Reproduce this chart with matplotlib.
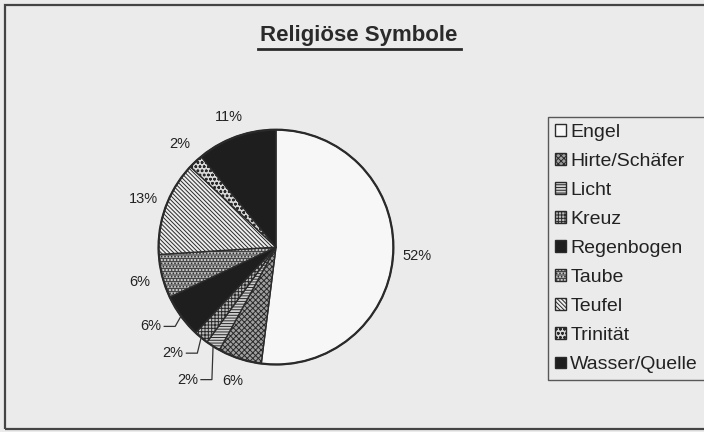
#!/usr/bin/env python3
import numpy as np
import matplotlib.pyplot as plt
from matplotlib.colors import to_rgba
from matplotlib.patches import Rectangle

plt.rcParams['font.family'] = ['Liberation Sans', 'DejaVu Sans']
plt.rcParams['hatch.linewidth'] = 0.7

categories = ["Engel", "Hirte/Schäfer", "Licht", "Kreuz", "Regenbogen",
              "Taube", "Teufel", "Trinität", "Wasser/Quelle"]
shares = [52, 6, 2, 2, 6, 6, 13, 2, 11]
labels = ["52%", "6%", "2%", "2%", "6%", "6%", "13%", "2%", "11%"]

colors = ["#f7f7f7", "#a0a0a0", "#d0d0d0", "#bdbdbd", "#1e1e1e",
          "#c8c8c8", "#eeeeee", "#d8d8d8", "#1e1e1e"]
hatches = ["", "xxxxxx", "------", "+++++", "", "-----.....",
           "\\\\\\\\\\\\\\\\", "oooo", ""]
hatch_col = ["#333333", "#3a3a3a", "#222222", "#222222", "#1e1e1e",
             "#333333", "#222222", "#333333", "#1e1e1e"]

bg = "#ebebeb"
fig = plt.figure(figsize=(7.04, 4.32), dpi=100, facecolor=bg)

# outer frame of the scanned chart
fig.patches.append(Rectangle((5 / 704, 3 / 432), 1.2, 1 - 8 / 432,
                             transform=fig.transFigure, fill=False,
                             edgecolor="#444444", linewidth=1.6))

ax = fig.add_axes([0.176, 0.076, 0.432, 0.704])
ax.set_facecolor("none")
ax.set_xlim(-1.3, 1.3)
ax.set_ylim(-1.3, 1.3)
ax.axis("off")

R = 0.965
wedges, _ = ax.pie(shares, startangle=90, counterclock=False, colors=colors,
                   radius=R, center=(0, 0), frame=False,
                   wedgeprops=dict(edgecolor="#2a2a2a", linewidth=1.0))
for w, h, hc in zip(wedges, hatches, hatch_col):
    w.set_hatch(h)
    w._hatch_color = to_rgba(hc)
    w.set_edgecolor("#2a2a2a")

ax.add_patch(plt.Circle((0, 0), R, fill=False, edgecolor="#2a2a2a",
                        linewidth=1.6))

# crowded bottom-left wedges get their label moved and a leader line
lead = {2: (-0.105, -0.11), 3: (-0.107, 0.022), 4: (-0.09, 0.03)}
for i, (w, lab) in enumerate(zip(wedges, labels)):
    mid = np.deg2rad((w.theta1 + w.theta2) / 2)
    r = 1.14 if i == 8 else 1.16
    x, y = r * np.cos(mid), r * np.sin(mid)
    if i in lead:
        dx, dy = lead[i]
        tx, ty = x + dx, y + dy
        ex, ey = R * np.cos(mid), R * np.sin(mid)
        sx = tx + 0.11
        ax.plot([sx, sx + 0.09, ex], [ty, ty, ey], color="#333333",
                linewidth=0.9)
        ax.text(tx, ty, lab, ha="center", va="center", fontsize=10.5,
                color="#222222")
    else:
        ax.text(x, y, lab, ha="center", va="center", fontsize=10.5,
                color="#222222")

fig.text(359 / 704, 1 - 36 / 432, "Religiöse Symbole", ha="center",
         va="center", fontsize=16, fontweight="bold", color="#2a2a2a")
fig.add_artist(plt.Line2D([258 / 704, 461 / 704], [1 - 49 / 432, 1 - 49 / 432],
                          transform=fig.transFigure, color="#2a2a2a",
                          linewidth=2.0))

leg = fig.legend(wedges, categories, loc="upper left",
                 bbox_to_anchor=(548 / 704, 1 - 117 / 432),
                 fontsize=14, frameon=True, fancybox=False,
                 handlelength=0.55, handleheight=0.55, handletextpad=0.25,
                 labelspacing=0.62, borderpad=0.35, borderaxespad=0)
leg.get_frame().set_edgecolor("#333333")
leg.get_frame().set_facecolor(bg)
leg.get_frame().set_linewidth(1.0)
for t in leg.get_texts():
    t.set_color("#222222")

fig.savefig("out.png", dpi=100, facecolor=bg)
